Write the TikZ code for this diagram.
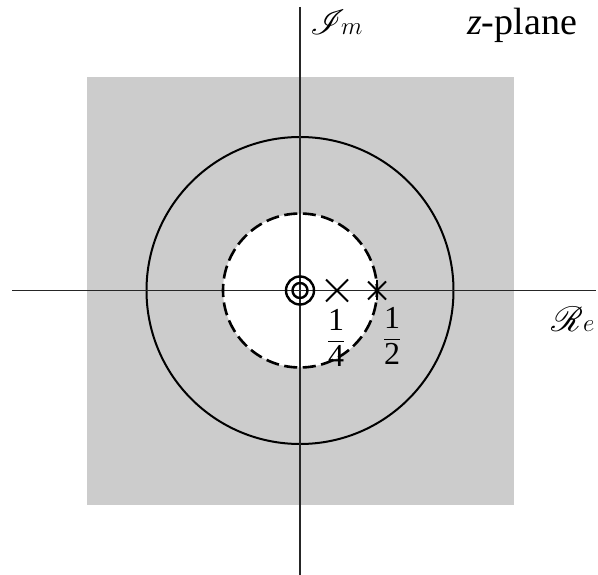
\documentclass[tikz,border=0pt]{standalone}
\usepackage{amsmath}
\usepackage{mathrsfs}
\DeclareFontFamily{U}{rsfs}{\skewchar\font127 }
\DeclareFontShape{U}{rsfs}{m}{n}{<-> rsfs10}{}
\usepackage{fontspec}
\setmainfont{Liberation Serif}
\usetikzlibrary{calc}
\begin{document}
\begin{tikzpicture}[x=1pt,y=-1pt,
  axis/.style={line width=1.3pt,black!85},
  ring/.style={line width=2pt,black},
  dashring/.style={line width=2.6pt,black,dash pattern=on 13.1pt off 5.51pt,dash phase=6.55pt},
  polemark/.style={line width=1.8pt,black},
  lbl/.style={inner sep=0pt,font=\fontsize{35}{42}\selectfont},
  planelbl/.style={inner sep=0pt,font=\fontsize{38}{44}\selectfont},
  fraclbl/.style={inner sep=0pt,font=\fontsize{32}{38}\selectfont}]
\useasboundingbox (0,0) rectangle (598,575);
\coordinate (O) at (300,290.5);
% shaded region
\fill[gray!40] (87,77) rectangle (514,505);
\draw[ring] (O) circle[radius=153.5];
\fill[white] (O) circle[radius=77];
% axes
\coordinate (xl) at (12,290.5);
\coordinate (xr) at (596,290.5);
\coordinate (yt) at (300,7);
\coordinate (yb) at (300,575);
\draw[axis] (xl) -- (xr);
\draw[axis] (yt) -- (yb);
% dashed circle
\draw[dashring] (O) circle[radius=77];
% double circle zero at origin
\draw[ring,line width=2.4pt] (O) circle[radius=14];
\draw[ring,line width=2.4pt] (O) circle[radius=7.5];
% poles
\coordinate (p1) at (337,290.5);
\coordinate (p2) at (377,290.5);
\draw[polemark] ($(p1)+(-11,-11)$) -- ($(p1)+(11,11)$);
\draw[polemark] ($(p1)+(-11,11)$) -- ($(p1)+(11,-11)$);
\draw[polemark] ($(p2)+(-9,-9)$) -- ($(p2)+(9,9)$);
\draw[polemark] ($(p2)+(-9,9)$) -- ($(p2)+(9,-9)$);
\draw[polemark] ($(p2)+(0,-10)$) -- ($(p2)+(0,10)$);
% labels
\node[fraclbl] (q) at (336,338) {$\dfrac{\text{1}}{\text{4}}$};
\node[fraclbl] (h) at (392,336) {$\dfrac{\text{1}}{\text{2}}$};
\node[lbl,anchor=base west] (im) at (310,35) {$\mathscr{I}\!m$};
\node[planelbl,anchor=base west] (zp) at (467,35) {\textit{z}-plane};
\node[lbl,anchor=base west] (re) at (551,331) {$\mathscr{R}e$};
\end{tikzpicture}
\end{document}
